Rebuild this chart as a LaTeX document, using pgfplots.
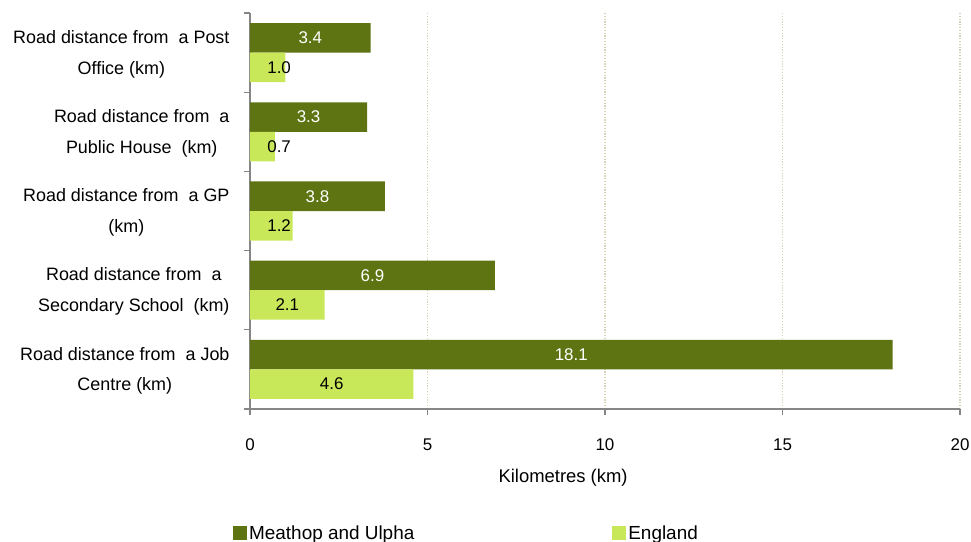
\documentclass[border=0pt]{standalone}
\usepackage{pgfplots}
\usepackage{pgfplotstable}
\pgfplotsset{compat=1.18}
\usepackage{fontspec}
\setmainfont{Liberation Sans}
\definecolor{darkg}{RGB}{94,116,18}
\definecolor{lightg}{RGB}{200,232,90}
\definecolor{gridc}{RGB}{215,210,180}
\definecolor{axisgray}{RGB}{134,134,134}

\pgfplotstableread{
pos meathop england
0 18.1 4.6
1 6.9 2.1
2 3.8 1.2
3 3.3 0.7
4 3.4 1.0
}\distdata

\begin{document}
\begin{tikzpicture}
\useasboundingbox (-250bp,-133bp) rectangle (721bp,409bp);
\begin{axis}[
  at={(0,0)}, anchor=south west,
  scale only axis, width=710bp, height=396bp,
  xmin=0, xmax=20, ymin=-0.5, ymax=4.5,
  axis x line*=bottom, axis y line*=left,
  axis line style={axisgray, line width=1.3bp, -},
  /pgf/number format/assume math mode=true,
  xtick={0,5,10,15,20},
  ytick={-0.5,0.5,1.5,2.5,3.5,4.5},
  yticklabels={},
  extra y ticks={0,1,2,3,4},
  extra y tick labels={{Road distance from\ \ a Job\\Centre (km)},
                       {Road distance from\ \ a\\Secondary School\ \ (km)},
                       {Road distance from\ \ a GP\\(km)},
                       {Road distance from\ \ a\\Public House\ \ (km)},
                       {Road distance from\ \ a Post\\Office (km)}},
  extra y tick style={tick style={draw=none}},
  yticklabel style={align=center, font=\fontsize{18}{31}\selectfont, xshift=-11bp, yshift=-1.5bp},
  tick align=outside,
  major tick length=6bp,
  tick style={axisgray, line width=1.3bp},
  xticklabel style={font=\fontsize{17}{20}\selectfont, yshift=-20bp},
  xmajorgrids,
  x grid style={gridc, line width=1.2bp, dash pattern=on 1.2bp off 1.6bp},
  xlabel={Kilometres (km)},
  xlabel style={at={(axis description cs:0.441,0)}, anchor=center, yshift=-69bp, font=\fontsize{18.5}{21}\selectfont},
  legend columns=2,
  legend style={draw=none, fill=none, at={(axis description cs:-0.024,-0.313)}, anchor=west,
    inner sep=0pt, font=\fontsize{19}{22}\selectfont,
    /tikz/every even column/.append style={column sep=196bp}},
]
\addplot[xbar, bar width=29.5bp, bar shift=14.75bp, fill=darkg, draw=none,
  legend image code/.code={\fill[darkg] (0bp,-7bp) rectangle (14bp,7bp);}]
  table[x=meathop, y=pos]{\distdata};
\addlegendentry{Meathop and Ulpha}
\addplot[xbar, bar width=29.5bp, bar shift=-14.75bp, fill=lightg, draw=none,
  legend image code/.code={\fill[lightg] (0bp,-7bp) rectangle (14bp,7bp);}]
  table[x=england, y=pos]{\distdata};
\addlegendentry{England}
\addplot[draw=none, mark=none, forget plot, point meta=explicit,
  nodes near coords={\pgfmathprintnumber[fixed,fixed zerofill,precision=1]{\pgfplotspointmeta}},
  nodes near coords style={anchor=center, text=white, font=\fontsize{17}{20}\selectfont, yshift=14.75bp}]
  table[x expr={\thisrow{meathop}/2}, y=pos, meta=meathop]{\distdata};
\addplot[draw=none, mark=none, forget plot, point meta=explicit,
  nodes near coords={\pgfmathprintnumber[fixed,fixed zerofill,precision=1]{\pgfplotspointmeta}},
  nodes near coords style={anchor=center, text=black, font=\fontsize{17}{20}\selectfont, yshift=-14.75bp}]
  table[x expr={max(\thisrow{england}/2,0.82)}, y=pos, meta=england]{\distdata};
\end{axis}
\end{tikzpicture}
\end{document}
